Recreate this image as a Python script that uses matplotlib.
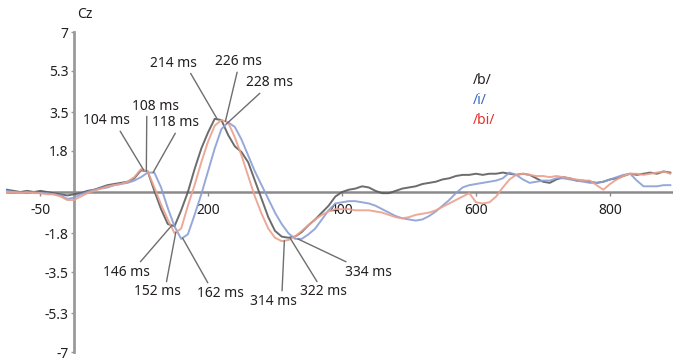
import numpy as np
import matplotlib
matplotlib.use("Agg")
import matplotlib.pyplot as plt

plt.rcParams['font.family'] = ['Noto Sans', 'DejaVu Sans']

# ---- data -------------------------------------------------------------
times = list(range(-100, 900, 10))

b_vals = [0.1, 0.05, 0.0, 0.05, 0.0, 0.05, 0.0, -0.05, -0.1, -0.15,
          -0.1, -0.05, 0.05, 0.1, 0.2, 0.3, 0.35, 0.4, 0.45, 0.6,
          0.95, 0.9, 0.05, -0.75, -1.4, -1.5, -0.8, 0.0, 1.0, 1.9,
          2.6, 3.2, 3.15, 2.5, 2.0, 1.75, 1.3, 0.5, -0.3, -1.1,
          -1.7, -1.95, -2.0, -1.95, -1.75, -1.45, -1.2, -0.9, -0.6, -0.2,
          0.0, 0.1, 0.15, 0.25, 0.2, 0.05, -0.05, -0.05, 0.05, 0.15,
          0.2, 0.25, 0.35, 0.4, 0.45, 0.55, 0.6, 0.7, 0.75, 0.75,
          0.8, 0.75, 0.8, 0.8, 0.85, 0.8, 0.75, 0.8, 0.75, 0.6,
          0.45, 0.4, 0.55, 0.65, 0.6, 0.5, 0.5, 0.45, 0.4, 0.45,
          0.55, 0.6, 0.7, 0.8, 0.75, 0.8, 0.85, 0.8, 0.9, 0.85]

i_vals = [0.05, 0.0, 0.0, -0.05, 0.0, -0.05, -0.05, -0.1, -0.15, -0.3,
          -0.25, -0.1, 0.0, 0.1, 0.15, 0.2, 0.3, 0.35, 0.4, 0.5,
          0.65, 0.85, 0.85, 0.2, -0.7, -1.5, -2.05, -1.85, -1.0, -0.1,
          0.9, 1.9, 2.75, 3.05, 2.85, 2.3, 1.6, 0.9, 0.3, -0.3,
          -0.9, -1.4, -1.8, -2.05, -2.05, -1.85, -1.6, -1.2, -0.8, -0.5,
          -0.45, -0.4, -0.4, -0.45, -0.5, -0.6, -0.75, -0.9, -1.05, -1.15,
          -1.2, -1.25, -1.2, -1.05, -0.85, -0.6, -0.35, -0.05, 0.2, 0.3,
          0.35, 0.4, 0.45, 0.5, 0.6, 0.85, 0.75, 0.55, 0.4, 0.45,
          0.5, 0.5, 0.6, 0.6, 0.55, 0.5, 0.45, 0.4, 0.4, 0.45,
          0.55, 0.65, 0.75, 0.8, 0.5, 0.25, 0.25, 0.25, 0.3, 0.3]

bi_vals = [0.0, 0.0, -0.05, 0.0, -0.05, -0.05, -0.1, -0.1, -0.2, -0.35,
           -0.35, -0.2, -0.05, 0.05, 0.15, 0.25, 0.3, 0.35, 0.45, 0.65,
           1.0, 0.9, 0.2, -0.55, -1.2, -1.8, -1.6, -0.6, 0.3, 1.3,
           2.2, 2.9, 3.15, 3.05, 2.4, 1.6, 0.7, -0.2, -0.95, -1.6,
           -2.0, -2.15, -2.1, -1.95, -1.7, -1.45, -1.2, -1.0, -0.85, -0.75,
           -0.75, -0.75, -0.8, -0.8, -0.8, -0.85, -0.9, -1.0, -1.1, -1.15,
           -1.1, -1.0, -0.95, -0.9, -0.8, -0.65, -0.5, -0.35, -0.2, -0.05,
           -0.45, -0.5, -0.45, -0.2, 0.2, 0.55, 0.75, 0.8, 0.75, 0.7,
           0.7, 0.65, 0.7, 0.65, 0.6, 0.55, 0.5, 0.5, 0.3, 0.1,
           0.35, 0.55, 0.7, 0.8, 0.8, 0.75, 0.8, 0.85, 0.9, 0.8]

series_names = ['/b/', '/i/', '/bi/']
line_colors = ['#5c5c5c', '#8a9fd4', '#eca08d']
label_colors = ['#231f20', '#3a66c0', '#e8302a']

x_ticks = [-50, 200, 400, 600, 800]
y_ticks = [7, 5.3, 3.5, 1.8, -1.8, -3.5, -5.3, -7]
y_tick_labels = ['7', '5.3', '3.5', '1.8', '-1.8', '-3.5', '-5.3', '-7']

# annotations: (latency, series index, text position (ms, uV), relpos)
peak_latencies = [104, 108, 118, 214, 226, 228, 146, 152, 162, 314, 322, 334]
peak_series = [2, 0, 1, 0, 2, 1, 0, 2, 1, 2, 0, 1]
label_pos = [(49, 3.11), (122, 3.76), (152, 3.02), (148, 5.64), (245, 5.69), (292, 4.77),
             (79, -3.5), (125, -4.37), (218, -4.42), (297, -4.77), (373, -4.37), (439, -3.5)]
label_relpos = [(0.73, 0.1), (0.31, 0.1), (0.54, 0.1), (0.82, 0.1), (0.5, 0.1), (0.39, 0.1),
                (0.71, 0.9), (0.67, 0.9), (0.29, 0.9), (0.69, 0.9), (0.41, 0.9), (0.22, 0.9)]

# ---- figure -----------------------------------------------------------
W, H = 673, 363
fig = plt.figure(figsize=(W / 100, H / 100), dpi=100)
ax = fig.add_axes([0, 0, 1, 1])
ax.set_xlim(-110.4, 894)
ax.set_ylim(-7.48, 8.4)
ax.patch.set_alpha(0)

all_vals = [b_vals, i_vals, bi_vals]
for vals, c in zip(all_vals, line_colors):
    ax.plot(times, vals, color=c, lw=1.4, alpha=0.9, solid_joinstyle='round', zorder=3)

axis_color = '#8a8a8a'
for s in ['top', 'right']:
    ax.spines[s].set_visible(False)
ax.spines['left'].set_position(('data', 0))
ax.spines['left'].set_bounds(-7, 7)
ax.spines['left'].set_color('#9a9a9a')
ax.spines['left'].set_linewidth(2)
ax.spines['bottom'].set_position(('data', 0))
ax.spines['bottom'].set_bounds(-100, 894)
ax.spines['bottom'].set_color(axis_color)
ax.spines['bottom'].set_linewidth(1.8)
ax.spines['left'].set_zorder(2)
ax.spines['bottom'].set_zorder(2)

ax.set_xticks(x_ticks)
ax.set_xticklabels([str(v) for v in x_ticks])
ax.set_yticks(y_ticks)
ax.set_yticklabels(y_tick_labels)
ax.tick_params(axis='x', direction='out', length=3, width=1, color=axis_color,
               pad=5, labelsize=10, labelcolor='#231f20')
ax.tick_params(axis='y', direction='out', length=2, width=1, color='#9a9a9a',
               pad=2, labelsize=10, labelcolor='#231f20')

for lat, si, pos, rp in zip(peak_latencies, peak_series, label_pos, label_relpos):
    yv = float(np.interp(lat, times, all_vals[si]))
    ax.annotate(f'{lat} ms', xy=(lat, yv), xytext=pos, ha='center', va='center',
                fontsize=10, color='#231f20', zorder=5,
                arrowprops=dict(arrowstyle='-', color='#6e6e6e', lw=1.0,
                                relpos=rp, shrinkA=0, shrinkB=0))

fig.text(85 / W, 1 - 15 / H, 'Cz', ha='center', va='center', fontsize=10, color='#231f20')
for k, (name, col) in enumerate(zip(series_names, label_colors)):
    fig.text(473 / W, 1 - (81 + 20 * k) / H, name, ha='left', va='center',
             fontsize=10, color=col)

fig.savefig('out.png', dpi=100)
